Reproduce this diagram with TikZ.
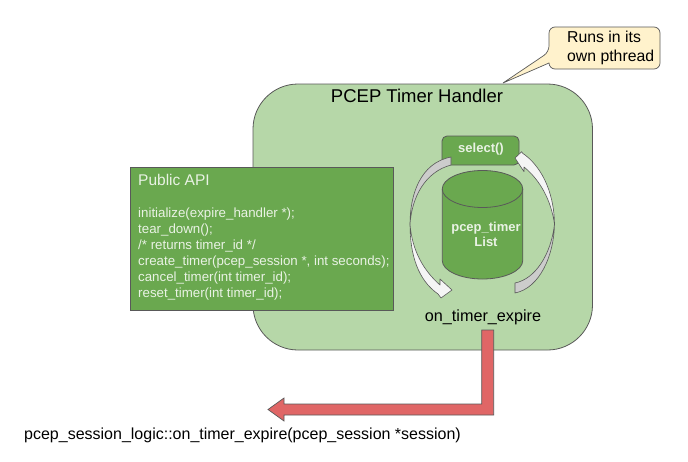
\documentclass[tikz,border=0pt]{standalone}
\usepackage{fontspec}
\setmainfont{Liberation Sans}
\definecolor{paleGreen}{HTML}{B6D7A8}
\definecolor{midGreen}{HTML}{6AA84F}
\definecolor{edgeGray}{HTML}{595959}
\definecolor{noteYellow}{HTML}{FFF2CC}
\definecolor{arrowRed}{HTML}{E06666}
\definecolor{softWhite}{HTML}{E9F2E4}
\tikzset{
    greenbox/.style={draw=edgeGray, fill=midGreen, line width=0.8pt},
    curvedark/.style={draw=edgeGray, fill=black!20, line width=0.6pt, line join=round},
    curvelight/.style={draw=edgeGray, fill=black!4, line width=0.6pt, line join=round}
}
\begin{document}
\begin{tikzpicture}[x=1pt, y=-1pt]
    \useasboundingbox (0,0) rectangle (688,461);

    % Handler box
    \node[draw=edgeGray, fill=paleGreen, line width=0.8pt, rounded corners=45pt, minimum width=339.5pt, minimum height=266pt, inner sep=0pt] (handler) at (422.75,217) {};
    \node[font=\fontsize{18.5}{20}\selectfont] (handlertitle) at (417,96) {PCEP Timer Handler};

    % Note
    \draw[draw=edgeGray, fill=noteYellow, line width=0.7pt, rounded corners=6pt] (549,52) [sharp corners] -- (503,83) -- (549,63) [rounded corners=6pt] -- (549,69) -- (660,69) -- (660,27) -- (549,27) -- cycle;
    \node[font=\fontsize{15.8}{18.5}\selectfont, align=left, anchor=west, inner sep=0pt] (note) at (567,48) {Runs in its\\own pthread};

    % Public API
    \node[greenbox, minimum width=263.5pt, minimum height=143pt, inner sep=0pt] (publicapi) at (261.75,238.5) {};
    \node[softWhite, font=\fontsize{15.5}{18}\selectfont, anchor=west, inner sep=0pt] (apititle) at (138,180) {Public API};
    \node[softWhite, font=\fontsize{13.3}{16}\selectfont, align=left, anchor=west, inner sep=0pt] (apibody) at (138,254) {initialize(expire\_handler *);\\tear\_down();\\/* returns timer\_id */\\create\_timer(pcep\_session *, int seconds);\\cancel\_timer(int timer\_id);\\reset\_timer(int timer\_id);};

    % Select box, square at the bottom
    \draw[greenbox, rounded corners=5pt] (442,165) -- (442,136) -- (519,136) -- (519,165) [sharp corners] -- cycle;
    \node[softWhite, font=\bfseries\fontsize{13}{15}\selectfont, inner sep=0pt] (selectcall) at (481,149) {select()};

    % Timer list
    \draw[greenbox] (442.25,189) -- (442.25,260.5) .. controls (442.25,270.7) and (460.3,279) .. (482.5,279) .. controls (504.7,279) and (522.75,270.7) .. (522.75,260.5) -- (522.75,189) .. controls (522.75,178.8) and (504.7,170.5) .. (482.5,170.5) .. controls (460.3,170.5) and (442.25,178.8) .. (442.25,189) -- cycle;
    \draw[draw=edgeGray, line width=0.8pt] (442.25,189) .. controls (442.25,199.2) and (460.3,207.5) .. (482.5,207.5) .. controls (504.7,207.5) and (522.75,199.2) .. (522.75,189);
    \node[softWhite, font=\bfseries\fontsize{13}{15.5}\selectfont, align=center, inner sep=0pt] (timerlist) at (486,234.5) {pcep\_timer\\List};

    % Left curved arrow
    \draw[curvelight] (410,224) .. controls (410,255) and (418,280) .. (438,294) -- (441,298) -- (452,290) -- (440,279) -- (440,285) .. controls (423,270) and (412,250) .. (410,224) -- cycle;
    \draw[curvedark] (451,157) .. controls (420,163) and (410,195) .. (410,224) .. controls (412,197) and (425,172) .. (451,165) -- cycle;

    % Right curved arrow
    \draw[curvelight] (554.5,224) .. controls (554,190) and (540,165) .. (522.7,153.3) -- (521.7,151.7) -- (515,158) -- (524,171.7) -- (524,167) .. controls (540,180) and (551,200) .. (554.5,224) -- cycle;
    \draw[curvedark] (554.5,224) .. controls (554,255) and (540,288) .. (515,293) -- (515,283) .. controls (535,279) and (551,255) .. (554.5,224) -- cycle;

    % Expire label and red arrow
    \node[font=\fontsize{16.2}{18}\selectfont, inner sep=0pt] (expire) at (483,317) {on\_timer\_expire};
    \coordinate (expirefoot) at (487.7,330);
    \coordinate (logictip) at (268,409.5);
    \draw[draw=edgeGray, fill=arrowRed, line width=0.7pt, line join=miter] (expirefoot) -- ++(6,0) -- ++(0,85) -- (284,415) -- (284,421) -- (logictip) -- (284,398) -- (284,404) -- (481.7,404) -- (481.7,330) -- cycle;
    \node[font=\fontsize{16}{18}\selectfont, anchor=west, inner sep=0pt] (logic) at (24,435) {pcep\_session\_logic::on\_timer\_expire(pcep\_session *session)};
\end{tikzpicture}
\end{document}
